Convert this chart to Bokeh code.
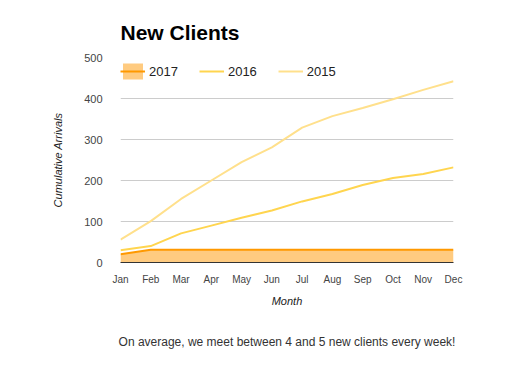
from bokeh.plotting import figure
from bokeh.models import Title, Range1d, FixedTicker, Legend, LegendItem
from bokeh.embed import file_html
from bokeh.resources import INLINE

months = ["Jan", "Feb", "Mar", "Apr", "May", "Jun", "Jul", "Aug", "Sep", "Oct", "Nov", "Dec"]
arrivals_2017 = [20, 31, 31, 31, 31, 31, 31, 31, 31, 31, 31, 31]
arrivals_2016 = [30, 40, 71, 90, 109, 127, 149, 167, 189, 206, 216, 232]
arrivals_2015 = [56, 101, 155, 200, 245, 281, 329, 357, 377, 398, 421, 442]
y_ticks = [0, 100, 200, 300, 400, 500]

xs = list(range(len(months)))
FONT = "Liberation Sans"

p = figure(width=509, height=378, output_backend="svg", toolbar_location=None,
           x_range=Range1d(0, len(months) - 1), y_range=Range1d(0, 500),
           min_border_left=120, min_border_right=56, min_border_top=57, min_border_bottom=116)
p.outline_line_color = None
p.background_fill_color = "white"
p.border_fill_color = "white"

r15 = p.line(xs, arrivals_2015, line_color="#FFE08C", line_width=2)
r16 = p.line(xs, arrivals_2016, line_color="#FFD54F", line_width=2)
ra = p.varea(xs, y1=[0] * len(xs), y2=arrivals_2017, fill_color="#FFCB80", fill_alpha=1)
r17 = p.line(xs, arrivals_2017, line_color="#FF9900", line_width=2)

legend = Legend(items=[LegendItem(label="2017", renderers=[ra, r17]),
                       LegendItem(label="2016", renderers=[r16]),
                       LegendItem(label="2015", renderers=[r15])],
                orientation="horizontal", location=(0, 181), padding=0, margin=0,
                spacing=21, glyph_width=25, glyph_height=20, label_standoff=4,
                label_text_font=FONT, label_text_font_size="13px", label_text_color="#222222",
                border_line_color=None, background_fill_alpha=0)
p.add_layout(legend, "center")

p.xaxis.ticker = FixedTicker(ticks=xs)
p.xaxis.major_label_overrides = {i: m for i, m in enumerate(months)}
p.yaxis.ticker = FixedTicker(ticks=y_ticks)
p.xgrid.grid_line_color = None
p.ygrid.grid_line_color = "#CCCCCC"
p.ygrid.grid_line_width = 1

for ax in (p.xaxis, p.yaxis):
    ax.major_tick_line_color = None
    ax.minor_tick_line_color = None
    ax.major_label_text_font = FONT
    ax.major_label_text_color = "#444444"
    ax.axis_label_text_font = FONT
    ax.axis_label_text_font_style = "italic"
    ax.axis_label_text_font_size = "11px"
    ax.axis_label_text_color = "#222222"
p.xaxis.axis_line_color = "#333333"
p.yaxis.axis_line_color = None
p.xaxis.major_label_text_font_size = "10px"
p.yaxis.major_label_text_font_size = "11px"
p.xaxis.major_label_standoff = 5
p.yaxis.major_label_standoff = 12
p.xaxis.axis_label = "Month"
p.yaxis.axis_label = "Cumulative Arrivals"
p.xaxis.axis_label_standoff = 7
p.yaxis.axis_label_standoff = 17

p.add_layout(Title(text="New Clients", align="left", text_font=FONT, text_font_size="21px",
                   text_font_style="bold", text_color="#000000", standoff=28), "above")
p.add_layout(Title(text="On average, we meet between 4 and 5 new clients every week!",
                   align="center", text_font=FONT, text_font_size="12px",
                   text_font_style="normal", text_color="#333333", standoff=46), "below")

open("out.html", "w").write(file_html(p, INLINE))
